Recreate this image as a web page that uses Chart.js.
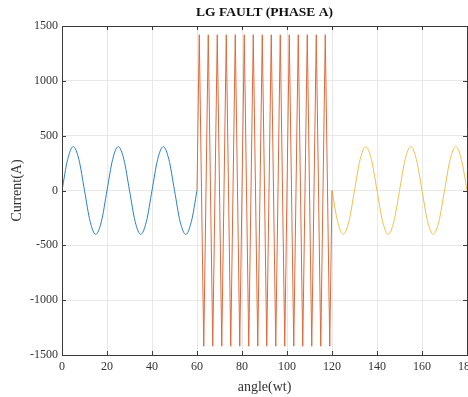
<!DOCTYPE html>
<html>
<head>
<meta charset="utf-8">
<script src="https://cdn.jsdelivr.net/npm/chart.js@4"></script>
<style>
  html, body { margin: 0; padding: 0; background: #fff; overflow: hidden; }
  #wrap { width: 490px; height: 397px; }
</style>
</head>
<body>
<div id="wrap"><canvas id="chart" width="490" height="397"></canvas></div>
<script>
// LG fault, phase A current: pre-fault, fault, post-fault

const chartTitle = 'LG FAULT (PHASE A)';
const xLabel = 'angle(wt)';
const yLabel = 'Current(A)';

const xTicks = [0, 20, 40, 60, 80, 100, 120, 140, 160, 180];
const yTicks = [-1500, -1000, -500, 0, 500, 1000, 1500];

// pre-fault (0..60)
const preAngle = [0, 2.5, 5, 7.5, 10, 12.5, 15, 17.5, 20, 22.5, 25, 27.5, 30,
  32.5, 35, 37.5, 40, 42.5, 45, 47.5, 50, 52.5, 55, 57.5, 60];
const preCurrent = [0, 283, 400, 283, 0, -283, -400, -283, 0, 283, 400, 283, 0,
  -283, -400, -283, 0, 283, 400, 283, 0, -283, -400, -283, 0];

// fault (60..120)
const faultAngle = [60, 61, 62, 63, 64, 65, 66, 67, 68, 69, 70, 71, 72, 73, 74, 75,
  76, 77, 78, 79, 80, 81, 82, 83, 84, 85, 86, 87, 88, 89, 90, 91, 92, 93, 94, 95,
  96, 97, 98, 99, 100, 101, 102, 103, 104, 105, 106, 107, 108, 109, 110, 111, 112,
  113, 114, 115, 116, 117, 118, 119, 120];
const faultCurrent = [0, 1420, 0, -1420, 0, 1420, 0, -1420, 0, 1420, 0, -1420,
  0, 1420, 0, -1420, 0, 1420, 0, -1420, 0, 1420, 0, -1420, 0, 1420, 0, -1420,
  0, 1420, 0, -1420, 0, 1420, 0, -1420, 0, 1420, 0, -1420, 0, 1420, 0, -1420,
  0, 1420, 0, -1420, 0, 1420, 0, -1420, 0, 1420, 0, -1420, 0, 1420, 0, -1420, 0];

// post-fault (120..180)
const postAngle = [120, 122.5, 125, 127.5, 130, 132.5, 135, 137.5, 140, 142.5, 145,
  147.5, 150, 152.5, 155, 157.5, 160, 162.5, 165, 167.5, 170, 172.5, 175, 177.5, 180];
const postCurrent = [0, -283, -400, -283, 0, 283, 400, 283, 0, -283, -400, -283, 0,
  283, 400, 283, 0, -283, -400, -283, 0, 283, 400, 283, 0];

const FONT = "'Liberation Serif', 'Times New Roman', serif";
const AXIS_COLOR = '#3a3a3a';

function toPoints(xs, ys) {
  return xs.map((x, i) => ({ x, y: ys[i] }));
}

/**
 * Box, inward ticks and title (MATLAB style)
 */
const matlabFrame = {
  id: 'matlabFrame',
  afterDraw(chart) {
    const { ctx, chartArea, scales } = chart;
    const { left, right, top, bottom } = chartArea;
    ctx.save();
    ctx.strokeStyle = AXIS_COLOR;
    ctx.lineWidth = 1;
    ctx.beginPath();
    scales.x.ticks.forEach(t => {
      const px = Math.round(scales.x.getPixelForValue(t.value)) + 0.5;
      ctx.moveTo(px, bottom); ctx.lineTo(px, bottom - 4);
      ctx.moveTo(px, top); ctx.lineTo(px, top + 4);
    });
    scales.y.ticks.forEach(t => {
      const py = Math.round(scales.y.getPixelForValue(t.value)) + 0.5;
      ctx.moveTo(left, py); ctx.lineTo(left + 4, py);
      ctx.moveTo(right, py); ctx.lineTo(right - 4, py);
    });
    ctx.stroke();
    ctx.strokeRect(Math.round(left) + 0.5, Math.round(top) + 0.5,
      Math.round(right - left), Math.round(bottom - top));

    ctx.fillStyle = '#111';
    ctx.font = `bold 13.5px ${FONT}`;
    ctx.textAlign = 'center';
    ctx.textBaseline = 'middle';
    ctx.fillText(chartTitle, (left + right) / 2, 13);
    ctx.restore();
  },
};

new Chart(document.getElementById('chart'), {
  type: 'line',
  data: {
    datasets: [
      {
        label: 'pre-fault',
        data: toPoints(preAngle, preCurrent),
        borderColor: '#2a7fc0',
        borderWidth: 1,
        cubicInterpolationMode: 'monotone',
        pointRadius: 0,
      },
      {
        label: 'fault',
        data: toPoints(faultAngle, faultCurrent),
        borderColor: '#dd6a3c',
        borderWidth: 1,
        tension: 0,
        pointRadius: 0,
      },
      {
        label: 'post-fault',
        data: toPoints(postAngle, postCurrent),
        borderColor: '#eec04a',
        borderWidth: 1,
        cubicInterpolationMode: 'monotone',
        pointRadius: 0,
      },
    ],
  },
  options: {
    responsive: false,
    animation: false,
    layout: { padding: { left: 0, right: 23, top: 26, bottom: 0 } },
    plugins: {
      legend: { display: false },
      title: { display: false },
      tooltip: { enabled: false },
    },
    scales: {
      x: {
        type: 'linear',
        min: 0,
        max: 180,
        afterBuildTicks: scale => { scale.ticks = xTicks.map(v => ({ value: v })); },
        afterFit: scale => { scale.height = 42; },
        grid: { color: '#e8e8e8', drawTicks: false },
        border: { display: false },
        ticks: {
          padding: 5, color: '#333', font: { family: FONT, size: 12 }, maxRotation: 0,
          callback: v => String(v),
        },
        title: {
          display: true,
          text: xLabel,
          color: '#333',
          font: { family: FONT, size: 14 },
          padding: { top: 0, bottom: 1 },
        },
      },
      y: {
        type: 'linear',
        min: -1500,
        max: 1500,
        afterBuildTicks: scale => { scale.ticks = yTicks.map(v => ({ value: v })); },
        afterFit: scale => { scale.width = 62; },
        grid: { color: '#e8e8e8', drawTicks: false },
        border: { display: false },
        ticks: {
          padding: 4, color: '#333', font: { family: FONT, size: 12 },
          callback: v => String(v),
        },
        title: {
          display: true,
          text: yLabel,
          color: '#333',
          font: { family: FONT, size: 14 },
          padding: { top: 9, bottom: 0 },
        },
      },
    },
  },
  plugins: [matlabFrame],
});
</script>
</body>
</html>
